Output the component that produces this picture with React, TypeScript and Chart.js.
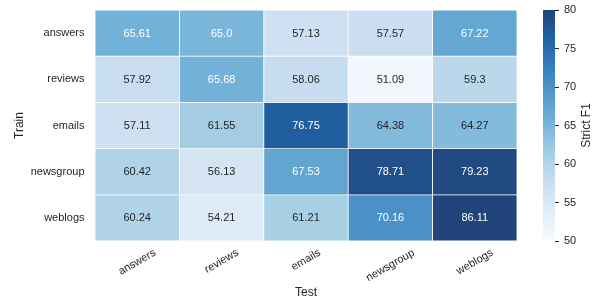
import React, { useEffect, useRef } from "react";
import { Chart, registerables } from "chart.js";

Chart.register(...registerables);

// ---- data ----
const trains = ["answers", "reviews", "emails", "newsgroup", "weblogs"];
const tests = ["answers", "reviews", "emails", "newsgroup", "weblogs"];
const answersRow = [65.61, 65.0, 57.13, 57.57, 67.22];
const reviewsRow = [57.92, 65.68, 58.06, 51.09, 59.3];
const emailsRow = [57.11, 61.55, 76.75, 64.38, 64.27];
const newsgroupRow = [60.42, 56.13, 67.53, 78.71, 79.23];
const weblogsRow = [60.24, 54.21, 61.21, 70.16, 86.11];
const values = [answersRow, reviewsRow, emailsRow, newsgroupRow, weblogsRow];
const colorbarTicks = [50, 55, 60, 65, 70, 75, 80];
const vmin = 50;
const vmax = 80;
const xTitle = "Test";
const yTitle = "Train";
const colorbarTitle = "Strict F1";

// ---- style ----
const FONT = "'Liberation Sans', Arial, sans-serif";
const TEXT = "#262626";
const ALPHA = 0.9;
const BLUES = ["#f7fbff", "#deebf7", "#c6dbef", "#9ecae1", "#6baed6", "#4292c6", "#2171b5", "#08519c", "#08306b"];

function hexToRgb(h: string) {
  return [parseInt(h.slice(1, 3), 16), parseInt(h.slice(3, 5), 16), parseInt(h.slice(5, 7), 16)];
}
const BLUES_RGB = BLUES.map(hexToRgb);

function bluesRgb(t: number) {
  const tc = Math.max(0, Math.min(1, t));
  const idx = Math.min(255, Math.floor(tc * 256));
  const u = idx / 255;
  const pos = u * 8;
  const i = Math.min(7, Math.floor(pos));
  const f = pos - i;
  const a = BLUES_RGB[i];
  const b = BLUES_RGB[i + 1];
  return [0, 1, 2].map((k) => a[k] + (b[k] - a[k]) * f);
}
function rgbStr(c: number[]) {
  const m = c.map((x) => x * ALPHA + 255 * (1 - ALPHA));
  return `rgb(${Math.round(m[0])},${Math.round(m[1])},${Math.round(m[2])})`;
}
function colorFor(v: number) {
  return rgbStr(bluesRgb((v - vmin) / (vmax - vmin)));
}
function textColorFor(v: number) {
  const c = bluesRgb((v - vmin) / (vmax - vmin)).map((x) => {
    const s = x / 255;
    return s <= 0.03928 ? s / 12.92 : Math.pow((s + 0.055) / 1.055, 2.4);
  });
  const lum = 0.2126 * c[0] + 0.7152 * c[1] + 0.0722 * c[2];
  return lum > 0.4 ? TEXT : "#ffffff";
}
function fmt(v: number) {
  return Number.isInteger(v) ? v.toFixed(1) : String(v);
}

const heatPlugin = {
  id: "heatText",
  afterDatasetsDraw(chart: any) {
    const ctx = chart.ctx;
    ctx.save();
    ctx.font = `11px ${FONT}`;
    ctx.textAlign = "center";
    ctx.textBaseline = "middle";
    values.forEach((row, r) => {
      const meta = chart.getDatasetMeta(r);
      meta.data.forEach((el: any, c: number) => {
        const v = row[c];
        ctx.fillStyle = textColorFor(v);
        ctx.fillText(fmt(v), el.x, (el.y + el.base) / 2 + 0.5);
      });
    });
    ctx.restore();
  },
  afterDraw(chart: any) {
    const ctx = chart.ctx;
    const xs = chart.scales.x;
    const area = chart.chartArea;
    ctx.save();
    ctx.fillStyle = TEXT;
    ctx.font = `11px ${FONT}`;
    ctx.textAlign = "center";
    ctx.textBaseline = "middle";
    const ang = (30 * Math.PI) / 180;
    tests.forEach((t, i) => {
      const x = xs.getPixelForValue(i);
      const w = ctx.measureText(t).width;
      const h = 12.6;
      const bboxH = w * Math.sin(ang) + h * Math.cos(ang);
      const cy = area.bottom + 5.5 + bboxH / 2;
      ctx.save();
      ctx.translate(x, cy);
      ctx.rotate(-ang);
      ctx.fillText(t, 0, 0);
      ctx.restore();
    });
    ctx.font = `12px ${FONT}`;
    ctx.textBaseline = "alphabetic";
    ctx.fillText(xTitle, (area.left + area.right) / 2, 296);
    ctx.save();
    ctx.translate(22.5, (area.top + area.bottom) / 2);
    ctx.rotate(-Math.PI / 2);
    ctx.fillText(yTitle, 0, 0);
    ctx.restore();
    ctx.restore();
  },
};

const cbPlugin = {
  id: "cbTitle",
  afterDraw(chart: any) {
    const ctx = chart.ctx;
    const area = chart.chartArea;
    ctx.save();
    ctx.fillStyle = TEXT;
    ctx.font = `12px ${FONT}`;
    ctx.textAlign = "center";
    ctx.textBaseline = "alphabetic";
    ctx.translate(64.5, (area.top + area.bottom) / 2);
    ctx.rotate(-Math.PI / 2);
    ctx.fillText(colorbarTitle, 0, 0);
    ctx.restore();
  },
};

export default function App() {
  const mainRef = useRef<HTMLCanvasElement | null>(null);
  const cbRef = useRef<HTMLCanvasElement | null>(null);

  useEffect(() => {
    const main = new Chart(mainRef.current as HTMLCanvasElement, {
      type: "bar",
      data: {
        labels: tests,
        datasets: trains.map((t, r) => ({
          label: t,
          data: tests.map(() => [r, r + 1]),
          backgroundColor: values[r].map(colorFor),
          borderColor: "#ffffff",
          borderWidth: 0.75,
          borderSkipped: false,
          barPercentage: 1,
          categoryPercentage: 1,
          grouped: false,
        })) as any,
      },
      options: {
        animation: false,
        responsive: false,
        devicePixelRatio: 1,
        events: [],
        layout: { padding: { top: 10, right: 8, left: 0, bottom: 0 } },
        plugins: { legend: { display: false }, tooltip: { enabled: false } },
        scales: {
          x: {
            type: "category",
            offset: true,
            grid: { display: false, drawTicks: false },
            border: { display: false },
            ticks: { display: false },
            afterFit: (s: any) => {
              s.height = 57;
              s.paddingLeft = 0;
              s.paddingRight = 0;
            },
          },
          y: {
            type: "linear",
            min: 0,
            max: trains.length,
            reverse: true,
            grid: { display: false, drawTicks: false },
            border: { display: false },
            afterBuildTicks: (s: any) => {
              s.ticks = trains.map((_, i) => ({ value: i + 0.5 }));
            },
            ticks: {
              color: TEXT,
              font: { family: FONT, size: 11 },
              padding: 10.5,
              callback: (_v: any, i: number) => trains[i],
            },
            afterFit: (s: any) => {
              s.width = 95;
              s.paddingTop = 0;
              s.paddingBottom = 0;
            },
          },
        },
      } as any,
      plugins: [heatPlugin],
    });

    const cb = new Chart(cbRef.current as HTMLCanvasElement, {
      type: "bar",
      data: {
        labels: [""],
        datasets: [
          {
            data: [[vmin, vmax]],
            borderWidth: 0,
            barPercentage: 1,
            categoryPercentage: 1,
            backgroundColor: (c: any) => {
              const chart = c.chart;
              const ys = chart.scales.y;
              if (!chart.chartArea || !ys) return BLUES[0];
              const g = chart.ctx.createLinearGradient(0, ys.getPixelForValue(vmin), 0, ys.getPixelForValue(vmax));
              for (let i = 0; i <= 32; i++) {
                g.addColorStop(i / 32, rgbStr(bluesRgb(i / 32)));
              }
              return g;
            },
          },
        ] as any,
      },
      options: {
        animation: false,
        responsive: false,
        devicePixelRatio: 1,
        events: [],
        layout: { padding: { top: 10, right: 0, left: 18, bottom: 57 } },
        plugins: { legend: { display: false }, tooltip: { enabled: false } },
        scales: {
          x: { type: "category", display: false },
          y: {
            type: "linear",
            position: "right",
            min: vmin,
            max: vmax,
            border: { display: false },
            grid: { display: true, drawOnChartArea: false, drawTicks: true, tickLength: 4, color: TEXT, lineWidth: 1 },
            afterBuildTicks: (s: any) => {
              s.ticks = colorbarTicks.map((v) => ({ value: v }));
            },
            ticks: {
              color: TEXT,
              font: { family: FONT, size: 11 },
              padding: 5,
              callback: (_v: any, i: number) => String(colorbarTicks[i]),
            },
            afterFit: (s: any) => {
              s.width = 40;
              s.paddingTop = 0;
              s.paddingBottom = 0;
            },
          },
        },
      } as any,
      plugins: [cbPlugin],
    });

    return () => {
      main.destroy();
      cb.destroy();
    };
  }, []);

  return (
    <div style={{ position: "fixed", left: 0, top: 0, width: 595, height: 298, background: "#ffffff" }}>
      <canvas ref={mainRef} width={525} height={298} style={{ position: "absolute", left: 0, top: 0, width: 525, height: 298 }} />
      <canvas ref={cbRef} width={70} height={298} style={{ position: "absolute", left: 525, top: 0, width: 70, height: 298 }} />
    </div>
  );
}
